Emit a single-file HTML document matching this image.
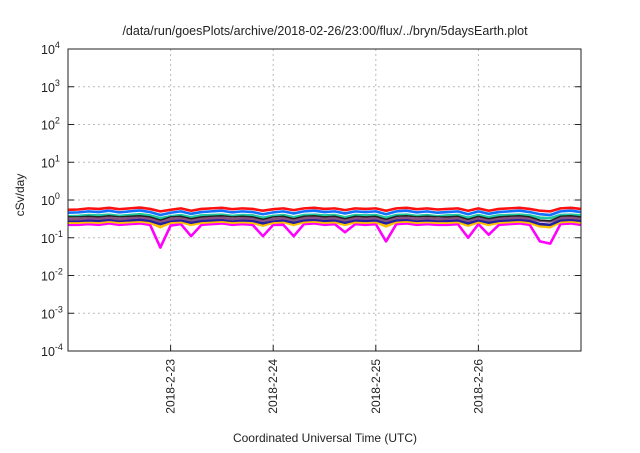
<!DOCTYPE html>
<html><head><meta charset="utf-8"><style>
body{margin:0;background:#fff;width:640px;height:448px;overflow:hidden}
svg text{font-family:"Liberation Sans",sans-serif;fill:#222}
</style></head><body>
<svg id="chart" width="640" height="448" xmlns="http://www.w3.org/2000/svg">
<text x="325" y="35" font-size="12.5" text-anchor="middle">/data/run/goesPlots/archive/2018-02-26/23:00/flux/../bryn/5daysEarth.plot</text>
<text transform="translate(24,195) rotate(-90)" font-size="12" text-anchor="middle">cSv/day</text>
<text x="325" y="442" font-size="12" text-anchor="middle">Coordinated Universal Time (UTC)</text>
<g id="grid"></g><g id="series"></g><g id="axes"></g>
</svg>
<script>
const xTickLabels=["2018-2-23","2018-2-24","2018-2-25","2018-2-26"];
const xTickDays=[1,2,3,4];
const yTickExps=[-4,-3,-2,-1,0,1,2,3,4];
const days=[];for(let i=0;i<=50;i++)days.push(i/10);
const red=[0.55,0.56,0.6,0.58,0.62,0.57,0.6,0.63,0.58,0.5,0.55,0.6,0.52,0.58,0.6,0.62,0.57,0.6,0.58,0.52,0.57,0.6,0.54,0.6,0.62,0.58,0.6,0.54,0.6,0.58,0.6,0.52,0.6,0.62,0.57,0.6,0.56,0.58,0.6,0.52,0.6,0.52,0.58,0.6,0.62,0.58,0.52,0.5,0.6,0.62,0.58];
const blue=[0.46,0.47,0.5,0.48,0.52,0.47,0.5,0.53,0.48,0.4,0.46,0.5,0.43,0.48,0.5,0.52,0.47,0.5,0.48,0.42,0.47,0.5,0.44,0.5,0.52,0.48,0.5,0.44,0.5,0.48,0.5,0.42,0.5,0.52,0.47,0.5,0.46,0.48,0.5,0.42,0.5,0.43,0.48,0.5,0.52,0.48,0.42,0.4,0.5,0.52,0.48];
const teal=[0.37,0.38,0.4,0.39,0.41,0.38,0.4,0.42,0.39,0.33,0.37,0.4,0.35,0.39,0.4,0.41,0.38,0.4,0.39,0.34,0.38,0.4,0.35,0.4,0.41,0.39,0.4,0.35,0.4,0.39,0.4,0.34,0.4,0.41,0.38,0.4,0.37,0.39,0.4,0.34,0.4,0.35,0.39,0.4,0.41,0.39,0.34,0.33,0.4,0.41,0.39];
const purple=[0.31,0.31,0.33,0.32,0.34,0.31,0.33,0.35,0.32,0.27,0.31,0.33,0.29,0.32,0.33,0.34,0.31,0.33,0.32,0.28,0.31,0.33,0.29,0.33,0.34,0.32,0.33,0.29,0.33,0.32,0.33,0.28,0.33,0.34,0.31,0.33,0.31,0.32,0.33,0.28,0.33,0.29,0.32,0.33,0.34,0.32,0.28,0.27,0.33,0.34,0.32];
const navy=[0.28,0.28,0.29,0.28,0.3,0.28,0.29,0.3,0.28,0.23,0.28,0.29,0.25,0.28,0.29,0.3,0.28,0.29,0.28,0.24,0.28,0.29,0.25,0.29,0.3,0.28,0.29,0.25,0.29,0.28,0.29,0.24,0.29,0.3,0.28,0.29,0.28,0.28,0.29,0.24,0.29,0.25,0.28,0.29,0.3,0.28,0.23,0.22,0.29,0.3,0.28];
const yellow=[0.25,0.25,0.26,0.25,0.27,0.25,0.26,0.27,0.25,0.19,0.25,0.26,0.22,0.25,0.26,0.27,0.25,0.26,0.25,0.21,0.25,0.26,0.22,0.26,0.27,0.25,0.26,0.22,0.26,0.25,0.26,0.2,0.26,0.27,0.25,0.26,0.25,0.25,0.26,0.21,0.26,0.22,0.25,0.26,0.27,0.25,0.2,0.19,0.26,0.27,0.25];
const magenta=[0.22,0.22,0.23,0.22,0.24,0.22,0.23,0.24,0.22,0.055,0.21,0.23,0.11,0.22,0.23,0.24,0.22,0.23,0.22,0.11,0.22,0.22,0.11,0.23,0.24,0.22,0.23,0.14,0.23,0.22,0.23,0.08,0.23,0.24,0.22,0.23,0.22,0.22,0.23,0.1,0.23,0.12,0.22,0.23,0.24,0.22,0.08,0.07,0.23,0.24,0.22];
const seriesList=[["magenta",magenta,"#ff00ff"],["yellow",yellow,"#ffc000"],["navy",navy,"#2020a0"],["purple",purple,"#8a5080"],["teal",teal,"#20c8a0"],["blue",blue,"#1070ff"],["red",red,"#ff1010"]];
const L=68,R=581,T=49,B=351;
const xs=d=>L+(R-L)*d/5;
const ys=v=>T+(B-T)*(4-Math.log10(v))/8;
const NS="http://www.w3.org/2000/svg";
function mk(tag,parent,attrs){const e=document.createElementNS(NS,tag);for(const k in attrs)e.setAttribute(k,attrs[k]);document.getElementById(parent).appendChild(e);return e;}
yTickExps.forEach(ex=>{const y=ys(Math.pow(10,ex));
 if(ex>-4&&ex<4){const g=mk("line","grid",{x1:L,x2:R,y1:y,y2:y,stroke:"#bbb","stroke-dasharray":"2,3"});
 
 }
 const t=mk("line","axes",{x1:L,x2:L+6,y1:y,y2:y,stroke:"#222"});
 
 
 const t2=mk("line","axes",{x1:R-6,x2:R,y1:y,y2:y,stroke:"#222"});
 
 
 const tx=mk("text","axes",{x:L-27,y:y+5,"font-size":"12.5","text-anchor":"start"});
 
 
 tx.innerHTML='10<tspan dy="-6" font-size="9">'+ex+'</tspan>';
});
xTickDays.forEach((d,i)=>{const x=xs(d);
 const g=mk("line","grid",{x1:x,x2:x,y1:T,y2:B,stroke:"#bbb","stroke-dasharray":"2,3"});
 
 
 const t=mk("line","axes",{x1:x,x2:x,y1:B-6,y2:B,stroke:"#222"});
 
 
 const tx=mk("text","axes",{transform:`translate(${x+4},${B+8}) rotate(-90)`,"font-size":"12","text-anchor":"end"});
 
 
 tx.textContent=xTickLabels[i];
});
seriesList.forEach(s=>{
 const p=mk("polyline","series",{points:s[1].map((v,i)=>xs(days[i])+","+ys(v)).join(" "),fill:"none",stroke:s[2],"stroke-width":"2.6","stroke-linejoin":"round"});
 
 
});
const bl=mk("polyline","series",{points:navy.map((v,i)=>xs(days[i])+","+(ys(v)-4)).join(" "),fill:"none",stroke:"#222","stroke-width":"1.5"});


const fr=mk("rect","axes",{x:L,y:T,width:R-L,height:B-T,fill:"none",stroke:"#222","stroke-width":"1"});


</script>
</body></html>
